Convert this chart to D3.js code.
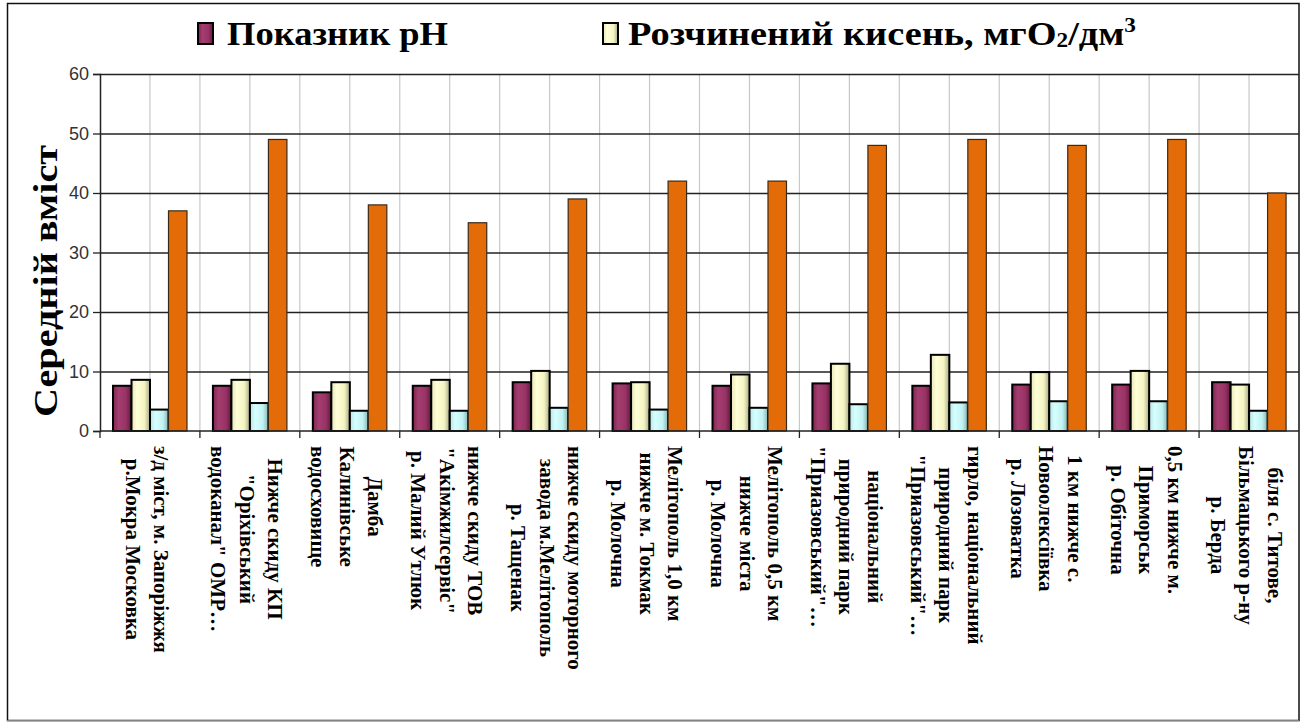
<!DOCTYPE html>
<html>
<head>
<meta charset="utf-8">
<script src="https://cdn.jsdelivr.net/npm/d3@7/dist/d3.min.js"></script>
<style>
  body { margin: 0; background: #fff; }
</style>
</head>
<body>
<svg id="chart" width="1304" height="724"></svg>
<script>
// sampling points (each label split into the lines seen on the chart)
const categoryLines = [
    ['з/д міст, м. Запоріжжя', 'р.Мокра Московка'],
    ['Нижче скиду КП', '"Оріхівський', 'водоканал" ОМР…'],
    ['Дамба', 'Калинівське', 'водосховище'],
    ['нижче скиду ТОВ', '"Акімжилсервіс"', 'р. Малий Утлюк'],
    ['нижче скиду моторного', 'завода м.Мелітополь', 'р. Тащенак'],
    ['Мелітополь 1,0 км', 'нижче м. Токмак', 'р. Молочна'],
    ['Мелітополь 0,5 км', 'нижче міста', 'р. Молочна'],
    ['національний', 'природний парк', '"Приазовський"…'],
    ['гирло, національний', 'природний парк', '"Приазовський"…'],
    ['1 км нижче с.', 'Новоолексіївка', 'р. Лозоватка'],
    ['0,5 км нижче м.', 'Приморськ', 'р. Обіточна'],
    ['біля с. Титове,', 'Більмацького р-ну', 'р. Берда']
];

const phValues     = [7.6, 7.6, 6.5, 7.6, 8.2, 8.0, 7.6, 8.0, 7.6, 7.8, 7.8, 8.2];
const oxygenValues = [8.6, 8.6, 8.2, 8.6, 10.1, 8.2, 9.5, 11.3, 12.8, 9.9, 10.1, 7.8];
const bodValues    = [3.6, 4.7, 3.4, 3.4, 3.9, 3.6, 3.9, 4.5, 4.8, 5.0, 5.0, 3.4];
const codValues    = [37, 49, 38, 35, 39, 42, 42, 48, 49, 48, 49, 40];

const seriesKeys = ['ph', 'oxygen', 'bod', 'cod'];
const legendLabels = ['Показник pH', 'Розчинений кисень, мгO'];
const yTicks = [0, 10, 20, 30, 40, 50, 60];
const yTitle = 'Середній вміст';

const data = categoryLines.map((lines, i) => ({
    index: i,
    lines: lines,
    ph: phValues[i],
    oxygen: oxygenValues[i],
    bod: bodValues[i],
    cod: codValues[i]
}));

const dims = { left: 100, right: 1299, top: 74, bottom: 431 };
const serif = '"Liberation Serif", "Times New Roman", serif';
const sans = '"Liberation Sans", Arial, sans-serif';

const svg = d3.select('#chart');
const defs = svg.append('defs');

// cylinder-like shading like the office chart
const gradients = {
    ph:     ['#7d2550', '#a43d70', '#993366', '#5e1a3c'],
    oxygen: ['#e6e6b8', '#ffffd8', '#f4f4c2', '#a8a888'],
    bod:    ['#b6e6e6', '#d6ffff', '#c2f2f2', '#86b4b4']
};
Object.entries(gradients).forEach(([key, c]) => {
    const g = defs.append('linearGradient')
        .attr('id', 'grad-' + key)
        .attr('x1', 0).attr('x2', 1).attr('y1', 0).attr('y2', 0);
    g.append('stop').attr('offset', '0%').attr('stop-color', c[0]);
    g.append('stop').attr('offset', '30%').attr('stop-color', c[1]);
    g.append('stop').attr('offset', '70%').attr('stop-color', c[2]);
    g.append('stop').attr('offset', '100%').attr('stop-color', c[3]);
});
const fillOf = { ph: 'url(#grad-ph)', oxygen: 'url(#grad-oxygen)', bod: 'url(#grad-bod)', cod: '#e36c09' };

// chart frame
svg.append('rect')
    .attr('x', 7.5).attr('y', 3.5)
    .attr('width', 1291.5).attr('height', 717)
    .attr('fill', 'white')
    .attr('stroke', '#111').attr('stroke-width', 1.5);
svg.append('line')
    .attr('x1', 7).attr('x2', 1299).attr('y1', 721).attr('y2', 721)
    .attr('stroke', '#aaa').attr('stroke-width', 1.5);

const x = d3.scaleBand()
    .domain(data.map(d => d.index))
    .range([dims.left, dims.right])
    .padding(0);

const xInner = d3.scaleBand()
    .domain(seriesKeys)
    .range([13, 87])
    .padding(0);

const y = d3.scaleLinear()
    .domain([0, 60])
    .range([dims.bottom, dims.top]);

// vertical light grid: category edges and half-way lines
const vGrid = d3.range(0, 24).map(i => dims.left + i * x.step() / 2);
svg.append('g')
    .selectAll('line')
    .data(vGrid.slice(1))
    .join('line')
    .attr('x1', d => d).attr('x2', d => d)
    .attr('y1', dims.top).attr('y2', dims.bottom)
    .attr('stroke', '#c8c8c8').attr('stroke-width', 1.2);

// horizontal grid
const yGrid = svg.append('g')
    .attr('transform', `translate(${dims.left},0)`)
    .call(d3.axisLeft(y).tickValues(yTicks.slice(1)).tickSize(-(dims.right - dims.left)).tickFormat(''));
yGrid.select('.domain').remove();
yGrid.selectAll('line').attr('stroke', '#222').attr('stroke-width', 1.3);

// bars
const groups = svg.append('g')
    .selectAll('g')
    .data(data)
    .join('g')
    .attr('transform', d => `translate(${x(d.index)},0)`);

groups.selectAll('rect')
    .data(d => seriesKeys.map(k => ({ key: k, value: d[k] })))
    .join('rect')
    .attr('x', d => xInner(d.key))
    .attr('y', d => y(d.value))
    .attr('width', xInner.bandwidth())
    .attr('height', d => y(0) - y(d.value))
    .attr('fill', d => fillOf[d.key])
    .attr('stroke', d => d.key === 'cod' ? '#3a2a1a' : '#000')
    .attr('stroke-width', d => d.key === 'cod' ? 1.2 : 2);

// y axis
const yAxis = svg.append('g')
    .attr('transform', `translate(${dims.left},0)`)
    .call(d3.axisLeft(y).tickValues(yTicks).tickSize(7).tickPadding(4));
yAxis.select('.domain').attr('stroke', '#222').attr('stroke-width', 1.5);
yAxis.selectAll('line').attr('stroke', '#222').attr('stroke-width', 1.3);
yAxis.selectAll('text')
    .attr('font-family', sans)
    .attr('font-size', 18)
    .attr('fill', '#333');

// x axis
const xAxisTicks = d3.range(0, 13).map(i => dims.left + i * x.step());
svg.append('line')
    .attr('x1', dims.left).attr('x2', dims.right)
    .attr('y1', dims.bottom).attr('y2', dims.bottom)
    .attr('stroke', '#222').attr('stroke-width', 1.5);
svg.append('g')
    .selectAll('line')
    .data(xAxisTicks.slice(0, 12))
    .join('line')
    .attr('x1', d => d).attr('x2', d => d)
    .attr('y1', dims.bottom).attr('y2', dims.bottom + 7)
    .attr('stroke', '#222').attr('stroke-width', 1.3);

// category labels, rotated to read top-down, lines stacked to the left
const labelSize = 21;
const lineStep = 28.5;
const labelTop = 446;
const labelGroups = svg.append('g')
    .selectAll('g')
    .data(data)
    .join('g');

labelGroups.each(function(d) {
    const cx = x(d.index) + x.bandwidth() / 2;
    const n = d.lines.length;
    const g = d3.select(this)
        .attr('transform', `translate(${cx},${labelTop}) rotate(90)`);
    const texts = g.selectAll('text')
        .data(d.lines)
        .join('text')
        .attr('font-family', serif)
        .attr('font-weight', 'bold')
        .attr('font-size', labelSize)
        .attr('fill', '#000')
        .attr('text-anchor', 'middle')
        .attr('y', (t, i) => 3 - (n - 1) / 2 * lineStep + i * lineStep + 0.33 * labelSize)
        .text(t => t);
    const maxLen = d3.max(texts.nodes(), node => node.getComputedTextLength());
    texts.attr('x', maxLen / 2);
});

// y axis title
svg.append('text')
    .attr('transform', 'translate(57,281) rotate(-90)')
    .attr('text-anchor', 'middle')
    .attr('font-family', serif)
    .attr('font-weight', 'bold')
    .attr('font-size', 34)
    .attr('textLength', 272)
    .attr('lengthAdjust', 'spacingAndGlyphs')
    .text(yTitle);

// legend
const legendItems = [
    { key: 'ph', label: legendLabels[0], sx: 198, tx: 227, len: 221, sub: null, sup: null },
    { key: 'oxygen', label: legendLabels[1], sx: 603, tx: 628, len: 508, sub: '2', mid: '/дм', sup: '3' }
];
const legend = svg.append('g')
    .selectAll('g')
    .data(legendItems)
    .join('g');
legend.append('rect')
    .attr('x', d => d.sx).attr('y', 23)
    .attr('width', 15).attr('height', 21)
    .attr('fill', d => fillOf[d.key])
    .attr('stroke', '#000').attr('stroke-width', 2);
legend.each(function(d) {
    const t = d3.select(this).append('text')
        .attr('x', d.tx).attr('y', 45)
        .attr('font-family', serif)
        .attr('font-weight', 'bold')
        .attr('font-size', 33)
        .attr('textLength', d.len)
        .attr('lengthAdjust', 'spacingAndGlyphs');
    t.append('tspan').text(d.label);
    if (d.sub) {
        t.append('tspan').attr('font-size', 20).attr('dy', 2).text(d.sub);
        t.append('tspan').attr('dy', -2).text(d.mid);
        t.append('tspan').attr('font-size', 20).attr('dy', -13).text(d.sup);
    }
});
</script>
</body>
</html>
